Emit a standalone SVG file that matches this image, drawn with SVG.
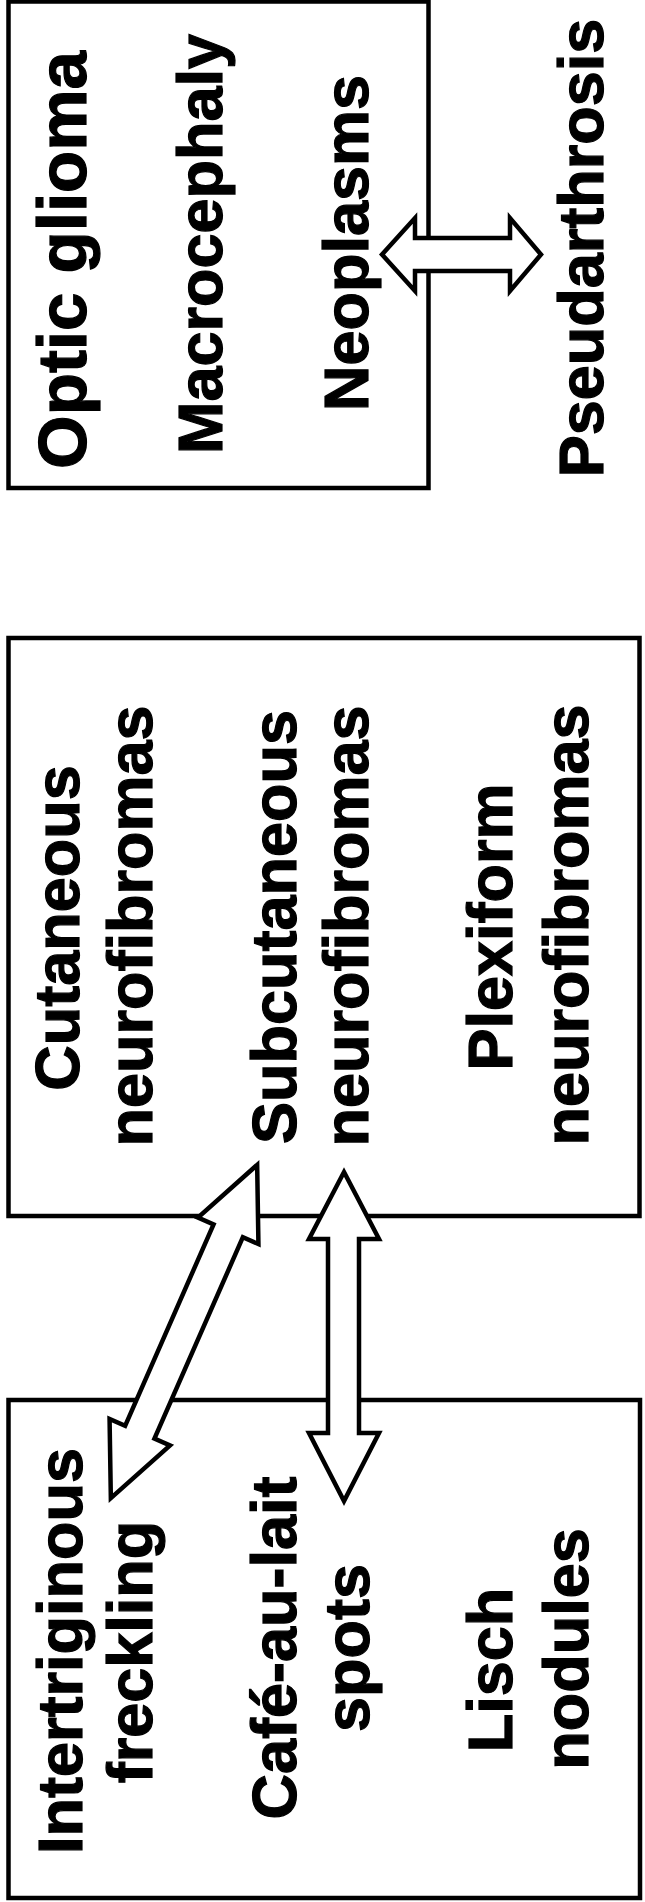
<svg xmlns="http://www.w3.org/2000/svg" width="645" height="1902" viewBox="0 0 645 1902">
  <style>
    .box { fill: none; stroke: #000; stroke-width: 4.5; }
    .arrow { fill: #fff; stroke: #000; stroke-width: 4.5; stroke-linejoin: miter; }
    .lbl { font-family: "Liberation Sans", Arial, Helvetica, sans-serif; font-weight: bold; font-size: 63px; fill: #000; stroke: #000; stroke-width: 1.2; text-anchor: middle; }
  </style>
  <rect width="645" height="1902" fill="#fff"/>
  <g id="node-top">
    <rect class="box" x="8.5" y="1.5" width="420" height="486.5"/>
    <text class="lbl" style="font-size:69px" transform="translate(86,260) rotate(-90)">Optic glioma</text>
    <text class="lbl" transform="translate(222,244) rotate(-90)">Macrocephaly</text>
    <text class="lbl" transform="translate(368,243) rotate(-90)">Neoplasms</text>
  </g>
  <g id="node-pseudarthrosis">
    <text class="lbl" transform="translate(603,248) rotate(-90)">Pseudarthrosis</text>
  </g>
  <g id="node-middle">
    <rect class="box" x="8.5" y="638" width="631" height="578"/>
    <text class="lbl" transform="translate(79,928) rotate(-90)">Cutaneous</text>
    <text class="lbl" transform="translate(152,926) rotate(-90)">neurofibromas</text>
    <text class="lbl" transform="translate(296,927) rotate(-90)">Subcutaneous</text>
    <text class="lbl" transform="translate(368,926) rotate(-90)">neurofibromas</text>
    <text class="lbl" transform="translate(512,927) rotate(-90)">Plexiform</text>
    <text class="lbl" transform="translate(588,925) rotate(-90)">neurofibromas</text>
  </g>
  <g id="node-bottom">
    <rect class="box" x="8.5" y="1400" width="631.5" height="498"/>
    <text class="lbl" transform="translate(82,1651) rotate(-90)">Intertriginous</text>
    <text class="lbl" transform="translate(152,1652) rotate(-90)">freckling</text>
    <text class="lbl" transform="translate(296,1648) rotate(-90)">Café-au-lait</text>
    <text class="lbl" transform="translate(369,1648) rotate(-90)">spots</text>
    <text class="lbl" transform="translate(512,1670) rotate(-90)">Lisch</text>
    <text class="lbl" transform="translate(588,1649) rotate(-90)">nodules</text>
  </g>
  <g id="connectors">
    <polygon class="arrow" points="382,254.5 415,218 415,238 510,238 510,218 541,254.5 510,291 510,271 415,271 415,291"/>
    <polygon class="arrow" points="344,1172 379,1239 359,1239 359,1433 379,1433 344,1501 309,1433 328,1433 328,1239 309,1239"/>
    <polygon class="arrow" transform="translate(184,1331.5) rotate(23.7)" points="0,-182 33,-110 16,-110 16,110 33,110 0,182 -33,110 -16,110 -16,-110 -33,-110"/>
  </g>
</svg>
